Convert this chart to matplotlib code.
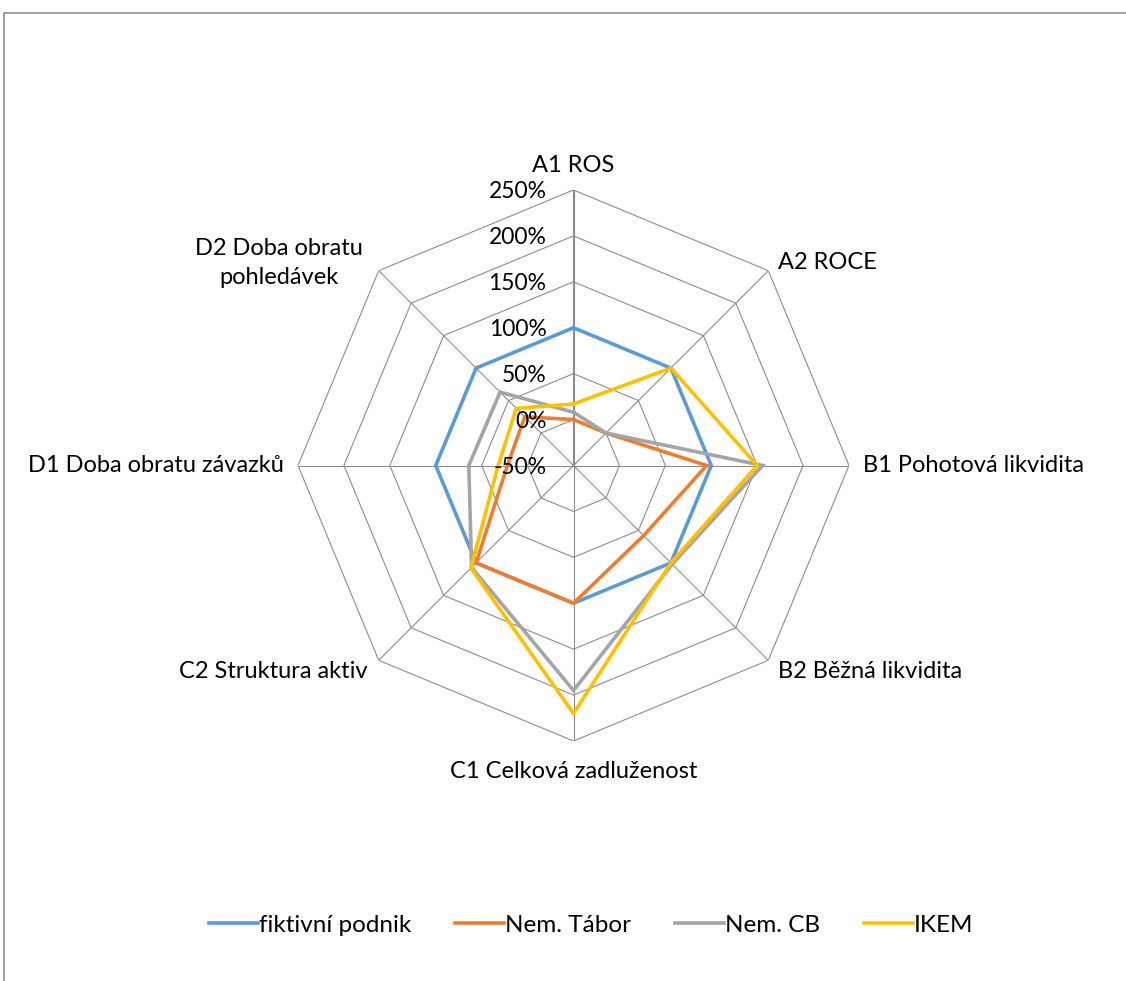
import numpy as np
import matplotlib
matplotlib.use('Agg')
import matplotlib.pyplot as plt
from matplotlib.patches import Rectangle

plt.rcParams['font.family'] = ['Lato', 'DejaVu Sans']

# Ukazatele a hodnoty (v %)
categories = ['A1 ROS', 'A2 ROCE', 'B1 Pohotová likvidita', 'B2 Běžná likvidita',
              'C1 Celková zadluženost', 'C2 Struktura aktiv',
              'D1 Doba obratu závazků', 'D2 Doba obratu\npohledávek']
fiktivni_podnik = [100, 100, 100, 100, 100, 100, 100, 100]
nem_tabor = [0, 0, 95, 58, 100, 100, 22, 25]
nem_cb = [8, 0, 156, 102, 195, 107, 64, 63]
ikem = [17, 100, 150, 100, 220, 108, 32, 38]
series_names = ['fiktivní podnik', 'Nem. Tábor', 'Nem. CB', 'IKEM']
series_values = [fiktivni_podnik, nem_tabor, nem_cb, ikem]
colors = ['#5B9BD5', '#ED7D31', '#A5A5A5', '#FFC000']
ticks = [-50, 0, 50, 100, 150, 200, 250]

W, H = 1126, 981
fig = plt.figure(figsize=(W / 100, H / 100), dpi=100)

# ramecek grafu
fig.patches.append(Rectangle((4 / W, -0.1), 1.2, 1.1 - 13 / H, transform=fig.transFigure,
                             fill=False, edgecolor='#868686', linewidth=1.1))

cx, cy, R = 573.5, 465.5, 275.5
ax = fig.add_axes([(cx - R) / W, (H - cy - R) / H, 2 * R / W, 2 * R / H], projection='polar')
ax.set_theta_zero_location('N')
ax.set_theta_direction(-1)
ax.set_ylim(ticks[0], ticks[-1])
ax.grid(False)
ax.spines['polar'].set_visible(False)
ax.set_xticks([])
ax.set_yticks([])
ax.patch.set_alpha(0)

n = len(categories)
angles = np.arange(n) * 2 * np.pi / n
closed = np.append(angles, angles[0])

# mnohouhelnikova mrizka
for lev in ticks[1:]:
    ax.plot(closed, [lev] * (n + 1), color='#8C8C8C', lw=0.8, zorder=1)
for i, a in enumerate(angles):
    ax.plot([a, a], [ticks[0], ticks[-1]], color='#8C8C8C',
            lw=1.5 if i == 0 else 0.8, zorder=1)

for name, vals, col in zip(series_names, series_values, colors):
    ax.plot(closed, vals + vals[:1], color=col, lw=2.6, label=name, zorder=3,
            solid_joinstyle='miter')

# popisky hodnot na svisle ose
for lev in ticks:
    ax.annotate(f'{lev}%', xy=(0, lev), xytext=(-27, -2), textcoords='offset pixels',
                ha='right', va='center', fontsize=16.5, zorder=4)

# popisky kategorii
offsets = [(0, 25, 'center'), (10, 8, 'left'), (14, 0, 'left'), (10, -11, 'left'),
           (0, -30, 'center'), (-11, -11, 'right'), (-14, 0, 'right'), (-16, 8, 'right')]
for a, lab, (dx, dy, ha) in zip(angles, categories, offsets):
    ax.annotate(lab, xy=(a, ticks[-1]), xytext=(dx, dy), textcoords='offset pixels',
                ha=ha, va='center', multialignment='center', fontsize=17,
                linespacing=1.45, annotation_clip=False)

handles, labels = ax.get_legend_handles_labels()
fig.legend(handles, labels, loc='center', bbox_to_anchor=(591.5 / W, 1 - 925 / H),
           ncol=4, frameon=False, fontsize=17.5, handlelength=2.0, handletextpad=0.06,
           columnspacing=1.8)

fig.savefig('out.png', dpi=100)
